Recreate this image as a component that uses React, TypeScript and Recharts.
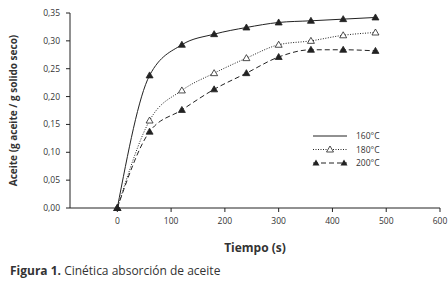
import React from 'react';
import { LineChart, Line, XAxis, YAxis } from 'recharts';

// tiempo (s) y absorción de aceite por temperatura
const tiempos = [0, 60, 120, 180, 240, 300, 360, 420, 480];
const aceite160 = [0, 0.238, 0.293, 0.312, 0.324, 0.333, 0.336, 0.339, 0.342];
const aceite180 = [0, 0.157, 0.211, 0.242, 0.269, 0.293, 0.3, 0.31, 0.315];
const aceite200 = [0, 0.137, 0.176, 0.213, 0.242, 0.271, 0.284, 0.284, 0.282];
const xTicks = [0, 100, 200, 300, 400, 500, 600];
const yTicks = [0, 0.05, 0.1, 0.15, 0.2, 0.25, 0.3, 0.35];

const data = tiempos.map((t, i) => ({
  t,
  c160: aceite160[i],
  c180: aceite180[i],
  c200: aceite200[i],
}));

const FONT = '"Open Sans", "Noto Sans", sans-serif';
const INK = '#222';
const TXT = '#333';

const Triangle = (filled: boolean) => (props: any) => {
  const { cx, cy, index } = props;
  if (cx == null || cy == null) return null;
  return (
    <path
      key={index}
      d={`M${cx},${cy - 3.5} L${cx + 3.5},${cy + 2.5} L${cx - 3.5},${cy + 2.5} Z`}
      fill={filled ? INK : '#fff'}
      stroke={INK}
      strokeWidth={0.8}
    />
  );
};

const legendItems = [
  { label: '160°C', dash: undefined, marker: null },
  { label: '180°C', dash: '1 1.5', marker: 'open' },
  { label: '200°C', dash: '5 3', marker: 'filled' },
];

const LegendBox = () => (
  <svg width={90} height={42} style={{ display: 'block' }}>
    {legendItems.map((it, i) => {
      const y = 5 + i * 13.5;
      return (
        <g key={it.label}>
          <line x1={1} x2={35} y1={y} y2={y} stroke={INK} strokeWidth={1} strokeDasharray={it.dash} />
          {it.marker === 'open' && (
            <path d={`M18,${y - 3.5} L21.5,${y + 2.5} L14.5,${y + 2.5} Z`} fill="#fff" stroke={INK} strokeWidth={0.8} />
          )}
          {it.marker === 'filled' && (
            <>
              <path d={`M4,${y - 3.5} L7.5,${y + 2.5} L0.5,${y + 2.5} Z`} fill={INK} />
              <path d={`M32,${y - 3.5} L35.5,${y + 2.5} L28.5,${y + 2.5} Z`} fill={INK} />
            </>
          )}
          <text x={44} y={y + 3} fontSize={8.5} fill={TXT} fontFamily={FONT}>
            {it.label}
          </text>
        </g>
      );
    })}
  </svg>
);

const tickStyle = { fontSize: 8.5, fill: TXT, fontFamily: FONT };

export default function App() {
  return (
    <div style={{ position: 'absolute', left: 0, top: 0, width: 448, height: 292, background: '#fff' }}>
      <LineChart width={448} height={292} data={data} margin={{ top: 13, right: 8, left: 0, bottom: 54 }}>
        <XAxis
          dataKey="t"
          type="number"
          domain={[-88, 600]}
          ticks={xTicks}
          allowDataOverflow
          tick={tickStyle}
          tickSize={4}
          tickMargin={6}
          axisLine={{ stroke: INK }}
          tickLine={{ stroke: INK }}
          height={30}
          label={(p: any) => {
            const vb = p.viewBox;
            return (
              <text x={vb.x + vb.width / 2} y={252} textAnchor="middle" fontSize={12} fontWeight="bold" fill={TXT} fontFamily={FONT}>
                Tiempo (s)
              </text>
            );
          }}
        />
        <YAxis
          type="number"
          domain={[0, 0.35]}
          ticks={yTicks}
          width={70}
          tick={tickStyle}
          tickSize={4}
          tickMargin={6}
          tickFormatter={(v: number) => v.toFixed(2).replace('.', ',')}
          axisLine={{ stroke: INK }}
          tickLine={{ stroke: INK }}
          label={(p: any) => {
            const vb = p.viewBox;
            const cy = vb.y + vb.height / 2;
            return (
              <text x={17} y={cy} transform={`rotate(-90 17 ${cy})`} textAnchor="middle" fontSize={10} fontWeight="bold" fill={TXT} fontFamily={FONT}>
                Aceite (g aceite / g solido seco)
              </text>
            );
          }}
        />
        <Line type="monotone" dataKey="c160" stroke={INK} strokeWidth={1} dot={Triangle(true)} isAnimationActive={false} />
        <Line type="monotone" dataKey="c180" stroke={INK} strokeWidth={1} strokeDasharray="1 1.5" dot={Triangle(false)} isAnimationActive={false} />
        <Line type="monotone" dataKey="c200" stroke={INK} strokeWidth={1} strokeDasharray="5 3" dot={Triangle(true)} isAnimationActive={false} />
      </LineChart>
      <div style={{ position: 'absolute', left: 10, top: 262, fontFamily: FONT, fontSize: 12, color: TXT, whiteSpace: 'nowrap' }}>
        <b>Figura 1.</b> Cinética absorción de aceite
      </div>
      <div style={{ position: 'absolute', left: 312, top: 131 }}>
        <LegendBox />
      </div>
    </div>
  );
}
